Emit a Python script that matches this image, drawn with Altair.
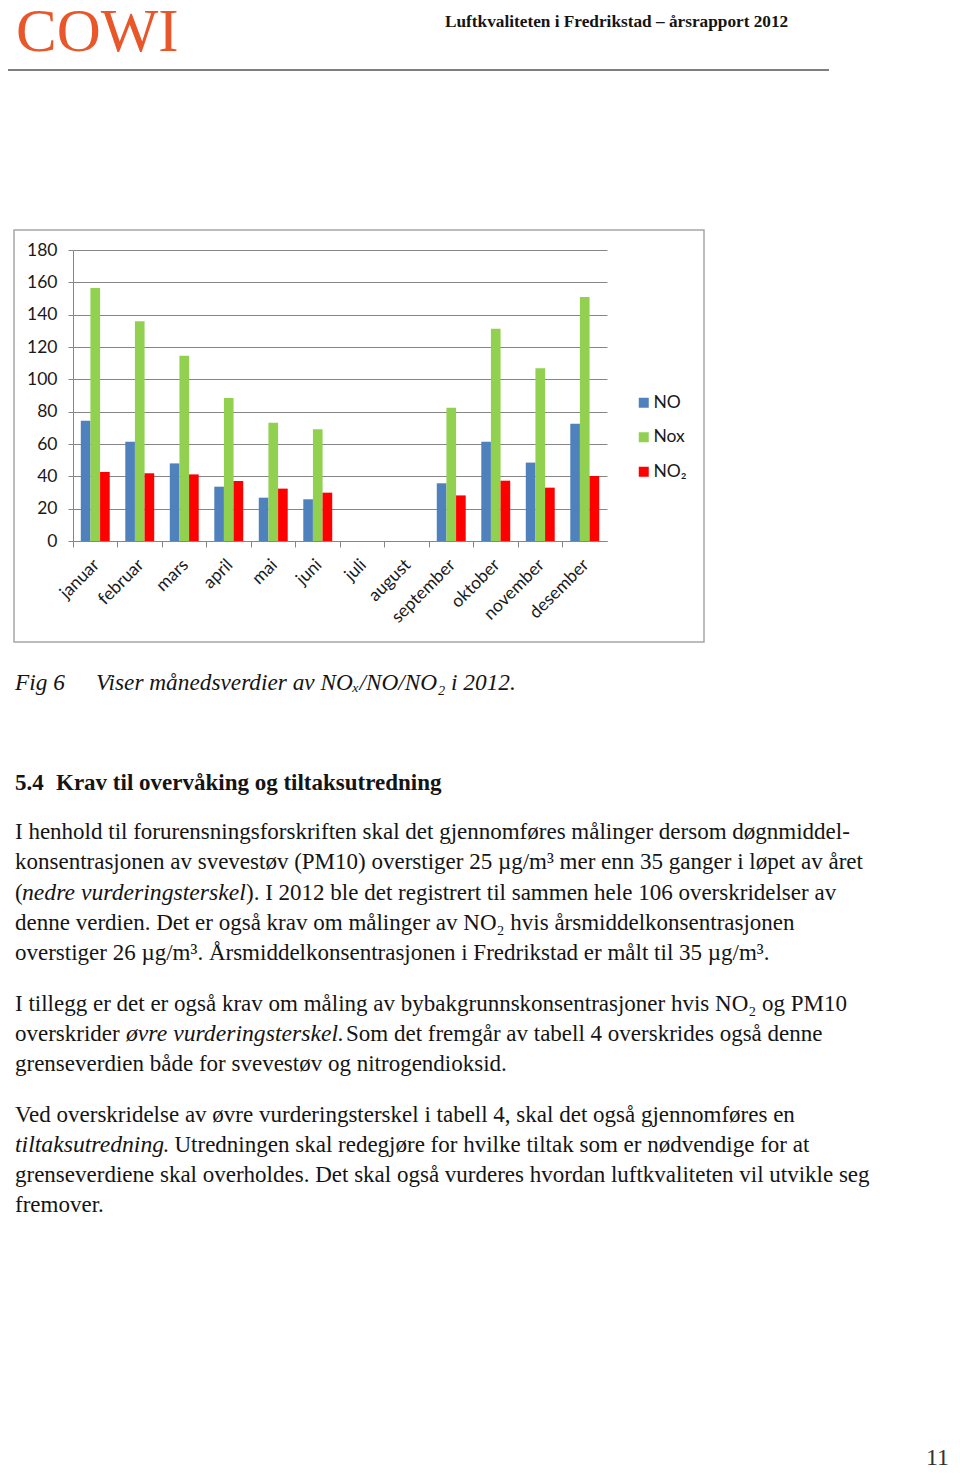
import altair as alt
import pandas as pd

# ---------------- data ----------------
months = ["januar", "februar", "mars", "april", "mai", "juni", "juli",
          "august", "september", "oktober", "november", "desember"]
series = ["NO", "Nox", "NO₂"]
no_vals = [74.4, 61.4, 48.0, 33.6, 26.8, 25.8, None, None, 35.7, 61.4, 48.5, 72.6]
nox_vals = [156.5, 135.9, 114.6, 88.5, 73.2, 69.1, None, None, 82.5, 131.3, 106.8, 150.9]
no2_vals = [42.7, 41.9, 41.2, 37.1, 32.4, 29.9, None, None, 28.2, 37.3, 33.0, 40.2]
y_ticks = [0, 20, 40, 60, 80, 100, 120, 140, 160, 180]

logo_text = "COWI"
header_text = "Luftkvaliteten i Fredrikstad – årsrapport 2012"
caption_label = "Fig 6"
caption_text = "Viser månedsverdier av NOₓ/NO/NO₂ i 2012."
heading_num = "5.4"
heading_text = "Krav til overvåking og tiltaksutredning"
page_number = "11"

# body lines: list of segments (text, italic?)
body_lines = [
    [("I henhold til forurensningsforskriften skal det gjennomføres målinger dersom døgnmiddel-", False)],
    [("konsentrasjonen av svevestøv (PM10) overstiger 25 µg/m³ mer enn 35 ganger i løpet av året", False)],
    [("(", False), ("nedre vurderingsterskel", True),
     ("). I 2012 ble det registrert til sammen hele 106 overskridelser av", False)],
    [("denne verdien. Det er også krav om målinger av NO₂ hvis årsmiddelkonsentrasjonen", False)],
    [("overstiger 26 µg/m³. Årsmiddelkonsentrasjonen i Fredrikstad er målt til 35 µg/m³.", False)],
    [("I tillegg er det er også krav om måling av bybakgrunnskonsentrasjoner hvis  NO₂ og PM10", False)],
    [("overskrider", False), ("øvre vurderingsterskel.", True),
     ("Som det fremgår av tabell 4 overskrides også denne", False)],
    [("grenseverdien både for svevestøv og nitrogendioksid.", False)],
    [("Ved overskridelse av øvre vurderingsterskel i tabell 4, skal det også gjennomføres en", False)],
    [("tiltaksutredning", True),
     (". Utredningen skal redegjøre for hvilke tiltak som er nødvendige for at", False)],
    [("grenseverdiene skal overholdes. Det skal også vurderes hvordan luftkvaliteten vil utvikle seg", False)],
    [("fremover.", False)],
]

# ---------------- layout (page pixels) ----------------
OX, OY = 73, 250          # plot-area origin on the page
PW, PH = 534, 291         # plot-area size
body_baselines = [839, 869, 900, 930, 960, 1011, 1041, 1071, 1122, 1152, 1182, 1212]
seg_x = {  # start x of each segment (line index -> list)
    2: [15, 22, 246],
    6: [15, 126, 346],
    9: [15, 163],
}
BODY_FONT = "Liberation Serif"
BODY_SIZE = 23
ITAL_SIZE = 23.7
CHART_FONT = "Lato"
CHART_SIZE = 17.5

rows = []
for m, a, b, c in zip(months, no_vals, nox_vals, no2_vals):
    rows.append({"month": m, "series": series[0], "value": a})
    rows.append({"month": m, "series": series[1], "value": b})
    rows.append({"month": m, "series": series[2], "value": c})
df = pd.DataFrame(rows)

step = PW / len(months)

bars = alt.Chart(df).mark_bar().encode(
    x=alt.X("month:N", sort=months,
            scale=alt.Scale(paddingInner=0.35, paddingOuter=0.175),
            axis=alt.Axis(title=None, labelAngle=315, labelAlign="right",
                          labelBaseline="middle", tickOffset=-step / 2,
                          labelOffset=step / 2 + 1, labelPadding=15,
                          labelFont=CHART_FONT, labelFontSize=CHART_SIZE, labelColor="#1a1a1a",
                          domainColor="#868686", tickColor="#868686", tickSize=6,
                          grid=False, labelFlush=False)),
    xOffset=alt.XOffset("series:N", sort=series,
                        scale=alt.Scale(paddingInner=0, paddingOuter=0)),
    y=alt.Y("value:Q", scale=alt.Scale(domain=[0, 180], nice=False),
            axis=alt.Axis(title=None, values=y_ticks, labelFont=CHART_FONT,
                          labelFontSize=CHART_SIZE, labelColor="#1a1a1a", labelPadding=11,
                          domainColor="#868686", tickColor="#868686", tickSize=5,
                          gridColor="#868686", gridWidth=1)),
    color=alt.Color("series:N", sort=series,
                    scale=alt.Scale(domain=series, range=["#4F81BD", "#92D050", "#FF0000"]),
                    legend=alt.Legend(title=None, orient="none", legendX=562, legendY=144,
                                      symbolType="square", symbolSize=100,
                                      symbolStrokeWidth=0, labelFont=CHART_FONT,
                                      labelFontSize=CHART_SIZE, labelColor="#1a1a1a",
                                      labelOffset=1, rowPadding=15.5, padding=0)),
)

one = pd.DataFrame({"k": [0]})


def txt(t, px, py, size, font=BODY_FONT, style="normal", weight="normal",
        color="#141414", align="left"):
    return alt.Chart(pd.DataFrame({"t": [t]})).mark_text(
        align=align, baseline="alphabetic", font=font, fontSize=size,
        fontStyle=style, fontWeight=weight, color=color
    ).encode(text="t:N", x=alt.value(px - OX), y=alt.value(py - OY))


layers = [bars]

# chart frame
layers.append(alt.Chart(one).mark_rect(fillOpacity=0, stroke="#a6a6a6", strokeWidth=1.5).encode(
    x=alt.value(14 - OX), x2=alt.value(704 - OX), y=alt.value(230 - OY), y2=alt.value(642 - OY)))
# header rule
layers.append(alt.Chart(one).mark_rule(color="#555555", strokeWidth=1.5).encode(
    x=alt.value(8 - OX), x2=alt.value(829 - OX), y=alt.value(70 - OY)))

layers.append(txt(logo_text, 16, 51, 61, color="#E8562A"))
layers.append(txt(header_text, 445, 27, 17.25, weight="bold"))
layers.append(txt(caption_label, 15, 690, 23.3, style="italic"))
layers.append(txt(caption_text, 96, 690, 23.3, style="italic"))
layers.append(txt(heading_num, 15, 790, 23, weight="bold"))
layers.append(txt(heading_text, 56, 790, 23, weight="bold"))
layers.append(txt(page_number, 926, 1465, 24, color="#333333"))

for i, (segs, yb) in enumerate(zip(body_lines, body_baselines)):
    xs = seg_x.get(i, [15])
    for (t, ital), xx in zip(segs, xs):
        layers.append(txt(t, xx, yb, ITAL_SIZE if ital else BODY_SIZE,
                          style="italic" if ital else "normal"))

chart = alt.layer(*layers).properties(
    width=PW, height=PH,
    autosize=alt.AutoSizeParams(type="none"),
    padding={"left": OX - 8, "top": OY - 8, "right": 944 - (OX - 8) - PW,
             "bottom": 1463 - (OY - 8) - PH},
    background="white",
).configure_view(strokeWidth=0)

chart.save("out.html", embed_options={"renderer": "svg", "actions": False})
